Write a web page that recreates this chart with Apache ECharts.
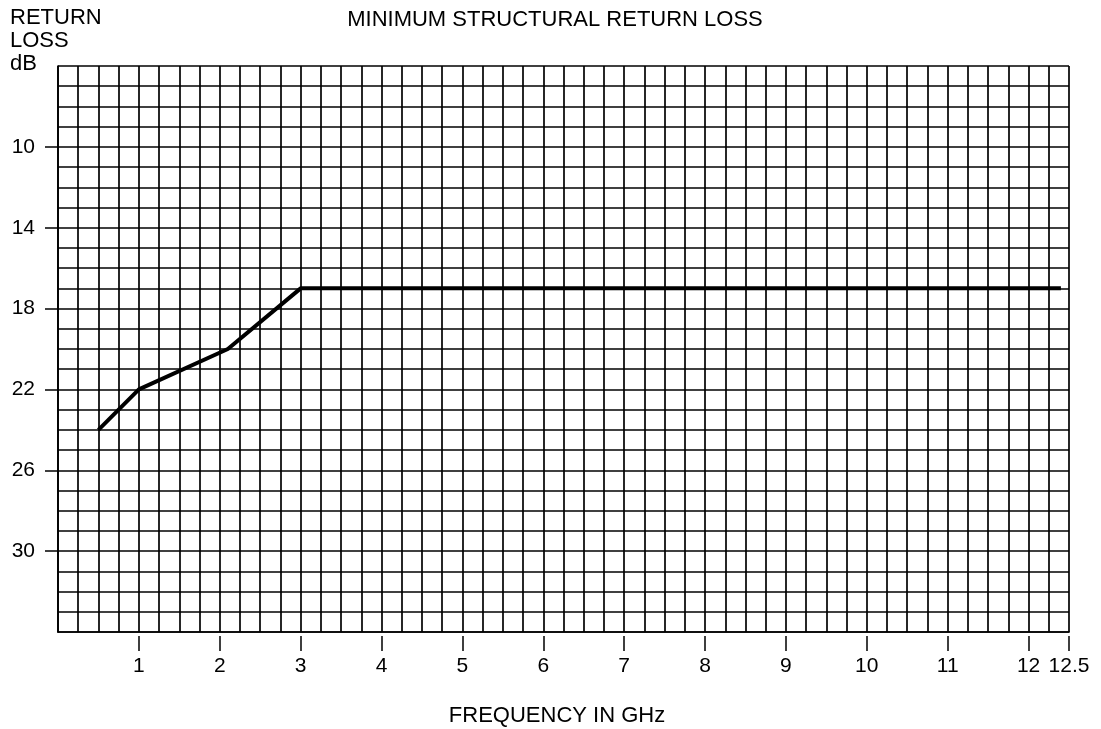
<!DOCTYPE html>
<html>
<head>
<meta charset="utf-8">
<script src="https://cdn.jsdelivr.net/npm/echarts@6/dist/echarts.min.js"></script>
<style>
html,body{margin:0;padding:0;background:#fff;}
#chart{width:1101px;height:729px;}
</style>
</head>
<body>
<div id="chart"></div>
<script>
// Data
const freqGHz = [0.5, 1, 2.1, 3, 12.4];
const returnLossDb = [24, 22, 20, 17, 17];
const xTickValues = [1, 2, 3, 4, 5, 6, 7, 8, 9, 10, 11, 12, 12.5];
const yTickValues = [10, 14, 18, 22, 26, 30];
const chartTitle = 'MINIMUM STRUCTURAL RETURN LOSS';
const xTitle = 'FREQUENCY IN GHz';
const yTitleLines = ['RETURN', 'LOSS', 'dB'];

const FONT = '"Liberation Sans", Arial, sans-serif';
const FS = 21;
const TFS = 22;
const chart = echarts.init(document.getElementById('chart'), null, {renderer: 'canvas'});

const gridLine = {show: true, lineStyle: {color: '#000', width: 1.7}};
const option = {
  backgroundColor: '#fff',
  animation: false,
  grid: {left: 58, right: 32, top: 66, bottom: 97, containLabel: false},
  xAxis: [
    {
      type: 'value', min: 0, max: 12.5, interval: 0.25,
      axisLine: {show: true, lineStyle: {color: '#000', width: 1.7}},
      axisTick: {show: false}, axisLabel: {show: false},
      splitLine: gridLine
    },
    {
      type: 'value', min: 0, max: 12.5, position: 'bottom', offset: 4,
      axisLine: {show: false},
      axisTick: {show: true, customValues: xTickValues, length: 15, lineStyle: {color: '#000', width: 1.5}},
      axisLabel: {show: true, customValues: xTickValues, margin: 20, color: '#000', fontSize: FS, fontFamily: FONT,
        formatter: v => String(v)},
      splitLine: {show: false}
    }
  ],
  yAxis: [
    {
      type: 'value', inverse: true, min: 6, max: 34, interval: 1,
      axisLine: {show: true, lineStyle: {color: '#000', width: 1.7}},
      axisTick: {show: false}, axisLabel: {show: false},
      splitLine: gridLine
    },
    {
      type: 'value', inverse: true, min: 6, max: 34, position: 'left', offset: 5,
      axisLine: {show: false},
      axisTick: {show: true, customValues: yTickValues, length: 13, lineStyle: {color: '#000', width: 1.5}},
      axisLabel: {show: true, customValues: yTickValues, margin: 18, color: '#000', fontSize: FS, fontFamily: FONT,
        formatter: v => String(v)},
      splitLine: {show: false}
    }
  ],
  series: [{
    type: 'line',
    xAxisIndex: 0, yAxisIndex: 0,
    data: freqGHz.map((f, i) => [f, returnLossDb[i]]),
    symbol: 'none',
    lineStyle: {color: '#000', width: 4},
    z: 10
  }],
  graphic: [
    {type: 'text', x: 555, y: 20, style: {text: chartTitle, fill: '#000', font: TFS + 'px ' + FONT, textAlign: 'center', textVerticalAlign: 'middle'}},
    {type: 'text', x: 557, y: 716, style: {text: xTitle, fill: '#000', font: TFS + 'px ' + FONT, textAlign: 'center', textVerticalAlign: 'middle'}},
    {type: 'text', x: 10, y: 18, style: {text: yTitleLines[0], fill: '#000', font: TFS + 'px ' + FONT, textAlign: 'left', textVerticalAlign: 'middle'}},
    {type: 'text', x: 10, y: 41, style: {text: yTitleLines[1], fill: '#000', font: TFS + 'px ' + FONT, textAlign: 'left', textVerticalAlign: 'middle'}},
    {type: 'text', x: 10, y: 64, style: {text: yTitleLines[2], fill: '#000', font: TFS + 'px ' + FONT, textAlign: 'left', textVerticalAlign: 'middle'}}
  ]
};
chart.setOption(option);
</script>
</body>
</html>
